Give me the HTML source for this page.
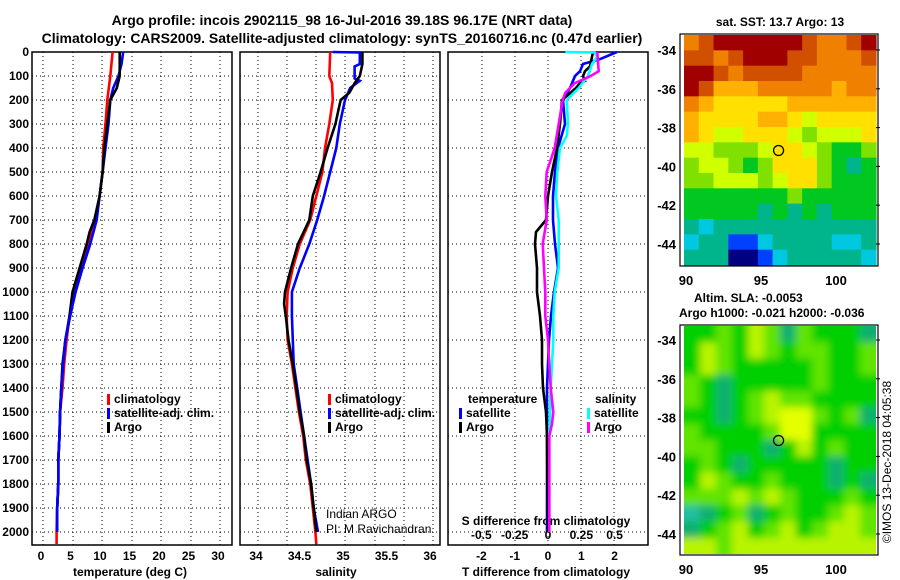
<!DOCTYPE html>
<html><head><meta charset="utf-8">
<style>
html,body{margin:0;padding:0;background:#fff}
svg{display:block;font-family:"Liberation Sans",sans-serif}
.b{font-weight:bold}
</style></head>
<body>
<svg id="fig" width="900" height="580" viewBox="0 0 900 580" xmlns="http://www.w3.org/2000/svg">
<defs>
<filter id="blur" x="-5%" y="-5%" width="110%" height="110%"><feGaussianBlur stdDeviation="4"/></filter>
<clipPath id="clip2"><rect x="684" y="326" width="192" height="228"/></clipPath>
</defs>
<text class="b" x="342" y="25" font-size="14" text-anchor="middle">Argo profile: incois 2902115_98 16-Jul-2016 39.18S 96.17E (NRT data)</text>
<text class="b" x="342" y="43" font-size="14" text-anchor="middle">Climatology: CARS2009. Satellite-adjusted climatology: synTS_20160716.nc (0.47d earlier)</text>
<g id="g1"></g>
<g id="g2"></g>
<g id="g3"></g>
<g id="m1"></g>
<g id="m2"></g>
<text x="891" y="462" font-size="12" text-anchor="middle" transform="rotate(-90 891 462)">©IMOS 13-Dec-2018 04:05:38</text>
</svg>
<script>
// ---- data ----
const depthTicks=[0,100,200,300,400,500,600,700,800,900,1000,1100,1200,1300,1400,1500,1600,1700,1800,1900,2000];
const tTicks=[0,5,10,15,20,25,30];
const sTicks=[34,34.5,35,35.5,36];
const dTTicks=[-2,-1,0,1,2];
const dSTickLabels=["-0.5","-0.25","0","0.25","0.5"];
const dSTicks=[-0.5,-0.25,0,0.25,0.5];

const tClimDepth=[0,100,200,300,400,500,600,700,800,900,1000,1100,1200,1300,1400,1500,1600,1700,1800,1900,2000,2050];
const tClim=[11.8,11.4,10.9,10.6,10.2,10.1,9.6,8.9,7.7,6.3,5.3,4.5,4.0,3.6,3.3,2.9,2.8,2.6,2.6,2.4,2.3,2.3];
const tSatDepth=[0,50,100,150,200,300,400,500,600,700,800,900,1000,1100,1200,1300,1400,1500,1600,1700,1800,1900,2000];
const tSat=[13.6,13.3,12.8,11.9,11.4,11.1,10.6,10.1,9.6,9.1,8.0,6.7,5.5,4.6,3.8,3.4,3.1,2.9,2.8,2.6,2.6,2.4,2.4];
const tArgoDepth=[0,100,150,200,300,400,500,600,700,750,800,900,1000,1100,1200,1300,1400,1500,1600,1700,1800,1900,2000];
const tArgo=[13.0,13.0,12.5,11.4,10.9,10.4,10.1,9.6,8.7,7.9,7.4,6.2,5.0,4.5,3.8,3.3,3.1,2.9,2.8,2.6,2.6,2.4,2.4];

const sClimDepth=[0,100,130,200,300,400,500,600,700,800,900,1000,1100,1200,1300,1400,1500,1600,1700,1800,1900,2000,2050];
const sClim=[34.83,34.82,34.85,34.86,34.82,34.77,34.74,34.67,34.60,34.48,34.40,34.34,34.33,34.34,34.39,34.43,34.47,34.52,34.55,34.60,34.63,34.66,34.67];
const sSatDepth=[0,2,50,60,110,120,150,200,250,300,400,500,600,700,800,900,1000,1100,1200,1300,1400,1500,1600,1700,1800,1900,2000];
const sSat=[34.86,35.17,35.17,35.11,35.11,35.17,35.06,35.0,34.97,34.94,34.90,34.83,34.76,34.68,34.59,34.48,34.39,34.39,34.40,34.41,34.45,34.49,34.53,34.57,34.61,34.64,34.69];
const sArgoDepth=[0,50,100,130,170,200,250,300,400,500,600,700,800,900,1000,1050,1100,1200,1300,1400,1500,1600,1700,1800,1900,2000];
const sArgo=[35.2,35.2,35.17,35.11,35.05,34.95,34.92,34.89,34.80,34.72,34.63,34.59,34.46,34.38,34.31,34.30,34.32,34.35,34.40,34.44,34.48,34.53,34.56,34.61,34.64,34.67];

const dTSatDepth=[0,30,50,80,100,150,200,300,400,500,600,700,800,900,1000,1100,1200,1300,1400,2000];
const dTSat=[2.07,1.56,1.05,0.96,0.81,0.66,0.45,0.51,0.3,0.21,0.15,0.15,0.21,0.3,0.18,0.09,0.03,0,-0.03,-0.03];
const dTArgoDepth=[0,60,80,100,120,130,150,200,300,400,500,600,700,750,800,900,1000,1100,1200,1300,1400,1500,1600,2000];
const dTArgo=[1.35,1.26,1.11,1.05,1.11,0.96,0.84,0.42,0.36,0.27,0.12,0,-0.06,-0.36,-0.39,-0.33,-0.33,-0.24,-0.18,-0.18,-0.15,-0.06,-0.03,0];
const dSSatDepth=[0,2,20,50,100,150,200,300,350,400,500,600,700,800,900,1000,1100,1200,1300,1400,1600,2000];
const dSSat=[0.13,0.35,0.37,0.33,0.30,0.23,0.14,0.15,0.14,0.09,0.07,0.06,0.08,0.08,0.08,0.05,0.04,0.04,0.03,0.02,0.01,0.01];
const dSArgoDepth=[0,80,100,130,170,200,300,400,500,600,700,800,900,1000,1100,1200,1300,1400,1500,1550,1600,2000];
const dSArgo=[0.37,0.38,0.32,0.20,0.13,0.11,0.08,0.05,-0.01,-0.02,-0.01,-0.04,-0.03,-0.02,-0.02,0,0.01,0.02,0.04,0.03,0.01,0.01];

const lonTicks=[90,95,100];
const latTicks=[-34,-36,-38,-40,-42,-44];
const sstGrid=[
[9,10,11,11,11,11,11,11,10,9,9,10,11],
[10,10,9,10,11,11,11,10,10,9,9,9,10],
[11,11,10,9,10,10,10,10,9,9,9,9,9],
[11,10,8,8,8,9,9,9,9,9,8,9,9],
[9,8,7,7,7,7,7,8,8,8,8,8,8],
[8,7,7,7,7,8,8,7,6,7,7,7,7],
[8,7,6,6,7,7,7,6,5,6,6,6,7],
[6,6,5,5,5,6,7,7,6,5,4,4,5],
[5,6,6,5,4,5,7,7,7,5,4,3,4],
[5,5,6,6,6,5,6,7,7,5,4,4,4],
[4,4,4,4,4,4,4,5,4,4,4,4,4],
[4,4,4,4,4,3,4,3,4,3,4,4,4],
[3,2,3,3,3,3,3,3,3,3,3,3,3],
[2,3,3,1,1,2,3,3,3,3,2,2,3],
[3,3,3,0,0,1,2,3,3,3,3,3,2]];
const slaGrid=[
[2,2,3,2,4,3,1,3,2,2,2,1],
[2,4,3,2,4,3,2,3,3,2,2,3],
[2,4,3,2,2,2,2,2,3,2,2,3],
[3,2,1,2,2,2,2,2,3,2,2,2],
[3,2,1,2,3,4,3,3,2,2,2,2],
[2,2,1,2,3,4,5,5,3,2,3,1],
[3,2,2,2,2,3,5,5,2,2,2,2],
[3,3,2,2,2,1,2,4,2,3,2,2],
[2,3,2,1,2,2,2,2,2,1,2,2],
[2,4,3,2,2,3,2,2,2,1,2,1],
[3,3,3,4,3,4,3,2,2,2,3,2],
[0,1,2,3,1,2,3,2,2,3,4,3],
[1,2,3,4,2,3,4,2,3,4,4,3],
[4,4,3,4,4,4,4,4,4,4,4,4]];
const floatLon=96.17, floatLat=-39.18;

// ---- drawing ----
const NS="http://www.w3.org/2000/svg";
function mk(p,t,a){const e=document.createElementNS(NS,t);for(const k in a)e.setAttribute(k,a[k]);p.appendChild(e);return e;}
const Y0=52, YB=545;
const yD=d=>Y0+d*0.24;
const sstCol=["#000080","#0040ff","#00c8e0","#00b48c","#00c820","#80e000","#d0ff00","#ffe000","#ffb000","#f08000","#d05000","#a00000"];
const slaCol=["#20c0a0","#10b070","#00d000","#60e400","#b8f400","#e4ff00"];

function frame(g,x0,x1,vgrid,hstep){
  for(const gx of vgrid){const l=mk(g,'line',{x1:gx,x2:gx,y1:Y0,y2:YB,stroke:'#000','stroke-width':1,'stroke-dasharray':'1,3'});
  
  }
  for(let d=hstep;d<=2000;d+=hstep){const y=yD(d);const l=mk(g,'line',{x1:x0,x2:x1,y1:y,y2:y,stroke:'#000','stroke-width':1,'stroke-dasharray':'1,3'});
  
  }
  const r=mk(g,'rect',{x:x0,y:Y0,width:x1-x0,height:YB-Y0,fill:'none',stroke:'#000','stroke-width':1.5});
  
  
}
function line(g,xs,ds,sx,col,name){
  const pts=xs.map((v,i)=>sx(v).toFixed(1)+','+yD(ds[i]).toFixed(1)).join(' ');
  const p=mk(g,'polyline',{points:pts,fill:'none',stroke:col,'stroke-width':2.6,'stroke-linejoin':'miter'});
  
  
}
function txt(g,x,y,s,opt){const t=mk(g,'text',Object.assign({x:x,y:y,'font-size':12,'font-weight':'bold'},opt||{}));t.textContent=s;return t;}
function legend(g,x,y,items){
  items.forEach((it,i)=>{
    const r=mk(g,'rect',{x:x,y:y+i*14-9,width:3,height:11,fill:it[1]});
    
    
    const t=txt(g,x+7,y+i*14,it[0]);
    
    
  });
}

// panel 1
const g1=document.getElementById('g1');
const sxT=v=>43+v*5.9;
frame(g1,32,232,[43,73,102,132,161,191,220],100);
depthTicks.forEach(d=>{const t=txt(g1,29,yD(d)+4,String(d),{'text-anchor':'end'});

});
tTicks.forEach(v=>{const t=txt(g1,sxT(v)-2,560,String(v),{'text-anchor':'middle'});

});
let t=txt(g1,130,576,'temperature (deg C)',{'text-anchor':'middle'});


line(g1,tClim,tClimDepth,sxT,'#ff0000','temperature-climatology-line');
line(g1,tSat,tSatDepth,sxT,'#0000ff','temperature-satellite-line');
line(g1,tArgo,tArgoDepth,sxT,'#000000','temperature-argo-line');
line(g1,tSat.slice(10),tSatDepth.slice(10),sxT,'#0000ff','temperature-satellite-line-deep');
legend(g1,107,403,[['climatology','#ff0000'],['satellite-adj. clim.','#0000ff'],['Argo','#000']]);

// panel 2
const g2=document.getElementById('g2');
const sxS=v=>258+(v-34)*87;
frame(g2,240,440,[258,287,316,345,375,404,433],100);
sTicks.forEach(v=>{const t=txt(g2,sxS(v)-2,560,String(v),{'text-anchor':'middle'});

});
t=txt(g2,336,576,'salinity',{'text-anchor':'middle'});


line(g2,sClim,sClimDepth,sxS,'#ff0000','salinity-climatology-line');
line(g2,sSat,sSatDepth,sxS,'#0000ff','salinity-satellite-line');
line(g2,sArgo,sArgoDepth,sxS,'#000000','salinity-argo-line');
legend(g2,328,403,[['climatology','#ff0000'],['satellite-adj. clim.','#0000ff'],['Argo','#000']]);
t=txt(g2,326,518,'Indian ARGO',{'font-weight':'normal'});


t=txt(g2,326,533,'PI: M Ravichandran',{'font-weight':'normal'});



// panel 3
const g3=document.getElementById('g3');
const sxD=v=>548+v*33.3;
const sxDS=v=>548+v*133.3;
frame(g3,448,648,[482,515,548,581,614],200);
dTTicks.forEach(v=>{const t=txt(g3,sxD(v),560,String(v),{'text-anchor':'middle'});

});
dSTicks.forEach((v,i)=>{const t=txt(g3,sxDS(v),539,dSTickLabels[i],{'text-anchor':'middle'});

});
t=txt(g3,546,576,'T difference from climatology',{'text-anchor':'middle'});


t=txt(g3,546,525,'S difference from climatology',{'text-anchor':'middle'});


line(g3,dTSat,dTSatDepth,sxD,'#0000ff','t-diff-satellite-line');
line(g3,dTArgo,dTArgoDepth,sxD,'#000000','t-diff-argo-line');
line(g3,dSSat,dSSatDepth,sxDS,'#00ffff','s-diff-satellite-line');
line(g3,dSArgo,dSArgoDepth,sxDS,'#ff00ff','s-diff-argo-line');
t=txt(g3,468,403,'temperature');


t=txt(g3,595,403,'salinity');


legend(g3,459,417,[['satellite','#0000ff'],['Argo','#000']]);
legend(g3,587,417,[['satellite','#00ffff'],['Argo','#ff00ff']]);

// maps
function map(g,grid,cols,x0,x1,y0,y1,latY,smooth){
  const nr=grid.length,nc=grid[0].length,cw=(x1-x0)/nc,ch=(y1-y0)/nr;
  let cg=g;
  if(smooth){
    const outer=mk(g,'g',{'clip-path':'url(#clip2)'});
    cg=mk(outer,'g',{filter:'url(#blur)'});
  }
  grid.forEach((row,r)=>row.forEach((v,c)=>{
    const ex=smooth?10:0;
    const xx=x0+c*cw-(c===0?ex:0), yy=y0+r*ch-(r===0?ex:0);
    const ww=cw+0.6+(c===0||c===nc-1?ex:0), hh=ch+0.6+(r===0||r===nr-1?ex:0);
    const rc=mk(cg,'rect',{x:xx.toFixed(2),y:yy.toFixed(2),width:ww.toFixed(2),height:hh.toFixed(2),fill:cols[v]});
    
    
  }));
  const fr=mk(g,'rect',{x:x0-4,y:y0-1,width:x1-x0+6,height:y1-y0+2,fill:'none',stroke:'#000','stroke-width':1.2});
  
  
  const lx=v=>686+(v-90)*15, ly=v=>latY+(-34-v)*19.4;
  latTicks.forEach(v=>{const tt=txt(g,x0-8,ly(v)+5,String(v),{'text-anchor':'end','font-size':13});
  
  
  mk(g,'line',{x1:x1,x2:x1+4,y1:ly(v),y2:ly(v),stroke:'#000'});});
  lonTicks.forEach(v=>{const tt=txt(g,lx(v),y1+20,String(v),{'text-anchor':'middle','font-size':13});
  
  });
  const c=mk(g,'circle',{cx:lx(floatLon),cy:ly(floatLat),r:5,fill:'none',stroke:'#000','stroke-width':1.3});
  
  
}
const m1=document.getElementById('m1');
map(m1,sstGrid,sstCol,684,876,35,265,50,false);
t=txt(m1,780,26,'sat. SST: 13.7 Argo: 13',{'text-anchor':'middle'});


const m2=document.getElementById('m2');
map(m2,slaGrid,slaCol,684,876,326,554,340,true);
t=txt(m2,694,302,'Altim. SLA: -0.0053');


t=txt(m2,679,317,'Argo h1000: -0.021 h2000: -0.036');


</script>
</body></html>
